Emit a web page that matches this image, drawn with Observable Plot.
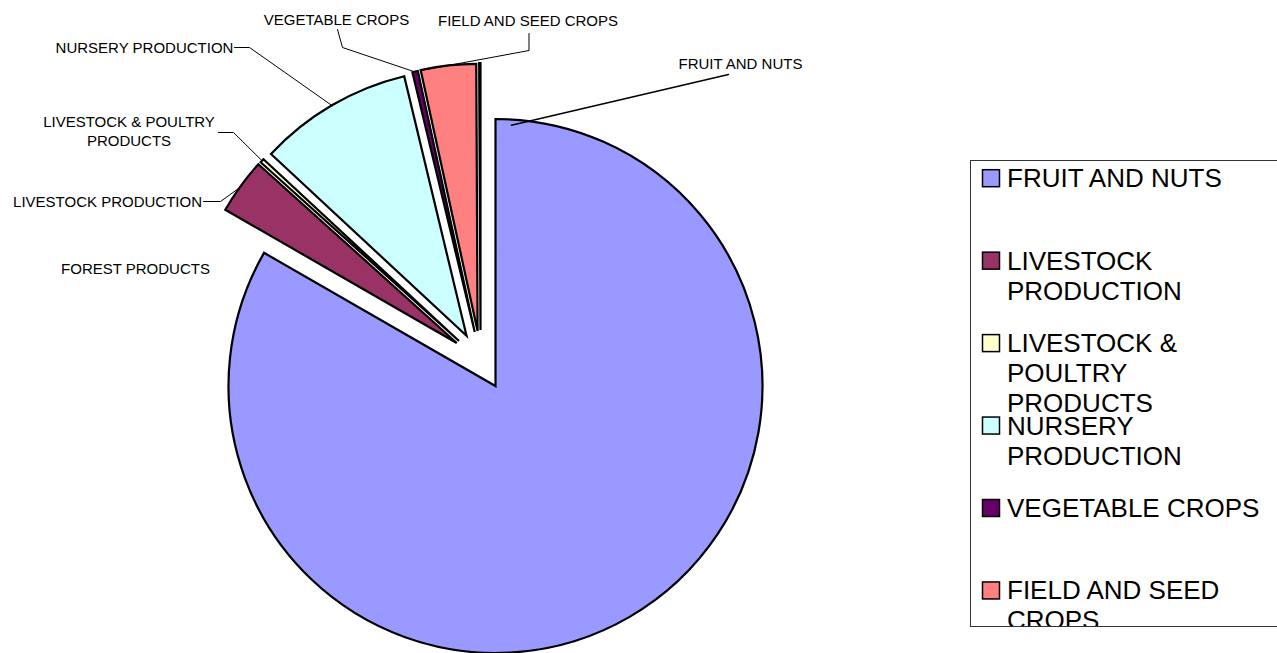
<!DOCTYPE html>
<html>
<head>
<meta charset="utf-8">
<script src="https://cdn.jsdelivr.net/npm/d3@7"></script>
<script src="https://cdn.jsdelivr.net/npm/@observablehq/plot@0.6"></script>
<style>
  html, body { margin: 0; padding: 0; background: #fff; }
  svg { display: block; }
</style>
</head>
<body>
<div id="chart"></div>
<script>
// ---------- data ----------
const categories = [
  "FRUIT AND NUTS",
  "LIVESTOCK PRODUCTION",
  "LIVESTOCK & POULTRY PRODUCTS",
  "NURSERY PRODUCTION",
  "VEGETABLE CROPS",
  "FIELD AND SEED CROPS",
  "FOREST PRODUCTS"
];
const shares = [83.31, 3.36, 0.25, 9.33, 0.33, 3.34, 0.08]; // percent of total
const colors = ["#9999FF", "#993366", "#FFFFCC", "#CCFFFF", "#660066", "#FF8080", "#0066CC"];
const explode = [0, 0.217, 0.217, 0.217, 0.217, 0.217, 0.217]; // offset, fraction of radius
const explodeDir = [0, 318, 321, 330, 339, 342, 345];            // offset direction, degrees clockwise from 12 o'clock
const legendCount = 6; // entries visible inside the (clipped) legend box

// ---------- layout ----------
const W = 1277, H = 653;
const PIE = {cx: 495.5, cy: 386, r: 267};
const FONT = "'Liberation Sans', Arial, Helvetica, sans-serif";
const labelLayout = [
  {name: "FRUIT AND NUTS", x: 740, y: 68.3, path: [[728, 74]], t: 0.0113, rf: 0.98},
  {name: "LIVESTOCK PRODUCTION", x: 107, y: 206.7, path: [[203, 201], [220, 201]], t: 0.5, rf: 1},
  {name: "LIVESTOCK & POULTRY PRODUCTS", x: 128.5, y: 145.7, path: [[218, 132], [233, 132]], t: 0.5, rf: 1},
  {name: "NURSERY PRODUCTION", x: 144, y: 52.5, path: [[234, 47], [249, 47]], t: 0.5, rf: 1},
  {name: "VEGETABLE CROPS", x: 336, y: 24.5, path: [[337, 29], [342, 47]], t: 0.5, rf: 1},
  {name: "FIELD AND SEED CROPS", x: 527.5, y: 25, path: [[528.5, 33], [528.5, 50]], t: 0, rf: 1},
  {name: "FOREST PRODUCTS", x: 135, y: 273.3, path: [], t: 0.5, rf: 1}
];
const LEGEND = {left: 970.5, top: 160.5, bottom: 626.5, right: 1300,
  swatchX: 982.5, swatch: 17, textX: 1006.5, firstBaseline: 186.7, slot: 82.45,
  fontSize: 26, lineHeight: 30 / 26};

// ---------- derived ----------
const rows = categories.map((name, i) => ({name, share: shares[i], color: colors[i], explode: explode[i], dir: explodeDir[i] * Math.PI / 180, i}));
const arcs = d3.pie().sort(null).value(d => d.share).startAngle(0).endAngle(2 * Math.PI)(rows);

function explodedCenter(a) {
  const off = a.data.explode * PIE.r;
  return [PIE.cx + off * Math.sin(a.data.dir), PIE.cy - off * Math.cos(a.data.dir)];
}

const leaderPts = [];
for (const L of labelLayout) {
  if (!L.path.length) continue;
  const a = arcs.find(d => d.data.name === L.name);
  const [ex, ey] = explodedCenter(a);
  const ang = a.startAngle + L.t * (a.endAngle - a.startAngle);
  const attach = [ex + L.rf * PIE.r * Math.sin(ang), ey - L.rf * PIE.r * Math.cos(ang)];
  [...L.path, attach].forEach((p, k) => leaderPts.push({name: L.name, x: p[0], y: p[1], k}));
}

const legendRows = rows.slice(0, legendCount).map(d => ({
  ...d,
  base: LEGEND.firstBaseline + d.i * LEGEND.slot
}));

function pieMark(index, scales) {
  const g = d3.create("svg:g");
  const cx = scales.x(PIE.cx);
  const r = scales.x(PIE.cx + PIE.r) - cx;
  const arc = d3.arc().innerRadius(0).outerRadius(r);
  for (const a of arcs) {
    const [ex, ey] = explodedCenter(a);
    g.append("path")
      .attr("d", arc(a))
      .attr("transform", `translate(${scales.x(ex)},${scales.y(ey)})`)
      .attr("fill", a.data.color)
      .attr("stroke", "#000")
      .attr("stroke-width", 2.2)
      .attr("stroke-linejoin", "miter")
      .attr("stroke-miterlimit", 4);
  }
  return g.node();
}

const chart = Plot.plot({
  width: W,
  height: H,
  margin: 0,
  x: {domain: [0, W], range: [0, W], axis: null},
  y: {domain: [0, H], range: [0, H], axis: null},
  style: {background: "#fff", fontFamily: FONT, overflow: "visible"},
  marks: [
    pieMark,
    Plot.line(leaderPts, {x: "x", y: "y", z: "name", stroke: "#000", strokeWidth: d => d.name === "FRUIT AND NUTS" ? 1.5 : 1, strokeLinejoin: "miter"}),
    Plot.text(labelLayout, {
      x: "x", y: "y", text: "name", fill: "#000", fontSize: 15, fontFamily: FONT,
      textAnchor: "middle", lineAnchor: "bottom", lineWidth: 14, lineHeight: 19 / 15
    }),
    // legend
    Plot.rect(legendRows, {
      x1: LEGEND.swatchX, x2: LEGEND.swatchX + LEGEND.swatch,
      y1: d => d.base - LEGEND.swatch, y2: "base",
      fill: "color", stroke: "#000", strokeWidth: 1.5
    }),
    Plot.text(legendRows, {
      x: LEGEND.textX, y: d => d.base - 0.71 * LEGEND.lineHeight * LEGEND.fontSize,
      text: "name", fill: "#000", fontSize: LEGEND.fontSize, fontFamily: FONT,
      textAnchor: "start", lineAnchor: "top", lineWidth: 10.2, lineHeight: LEGEND.lineHeight
    }),
    Plot.rect([0], {x1: LEGEND.left + 0.5, x2: W + 10, y1: LEGEND.bottom + 0.5, y2: H + 20, fill: "#fff"}),
    Plot.rect([0], {x1: LEGEND.left, x2: LEGEND.right, y1: LEGEND.top, y2: LEGEND.bottom, fill: "none", stroke: "#333", strokeWidth: 1})
  ]
});
document.getElementById("chart").appendChild(chart);
</script>
</body>
</html>
